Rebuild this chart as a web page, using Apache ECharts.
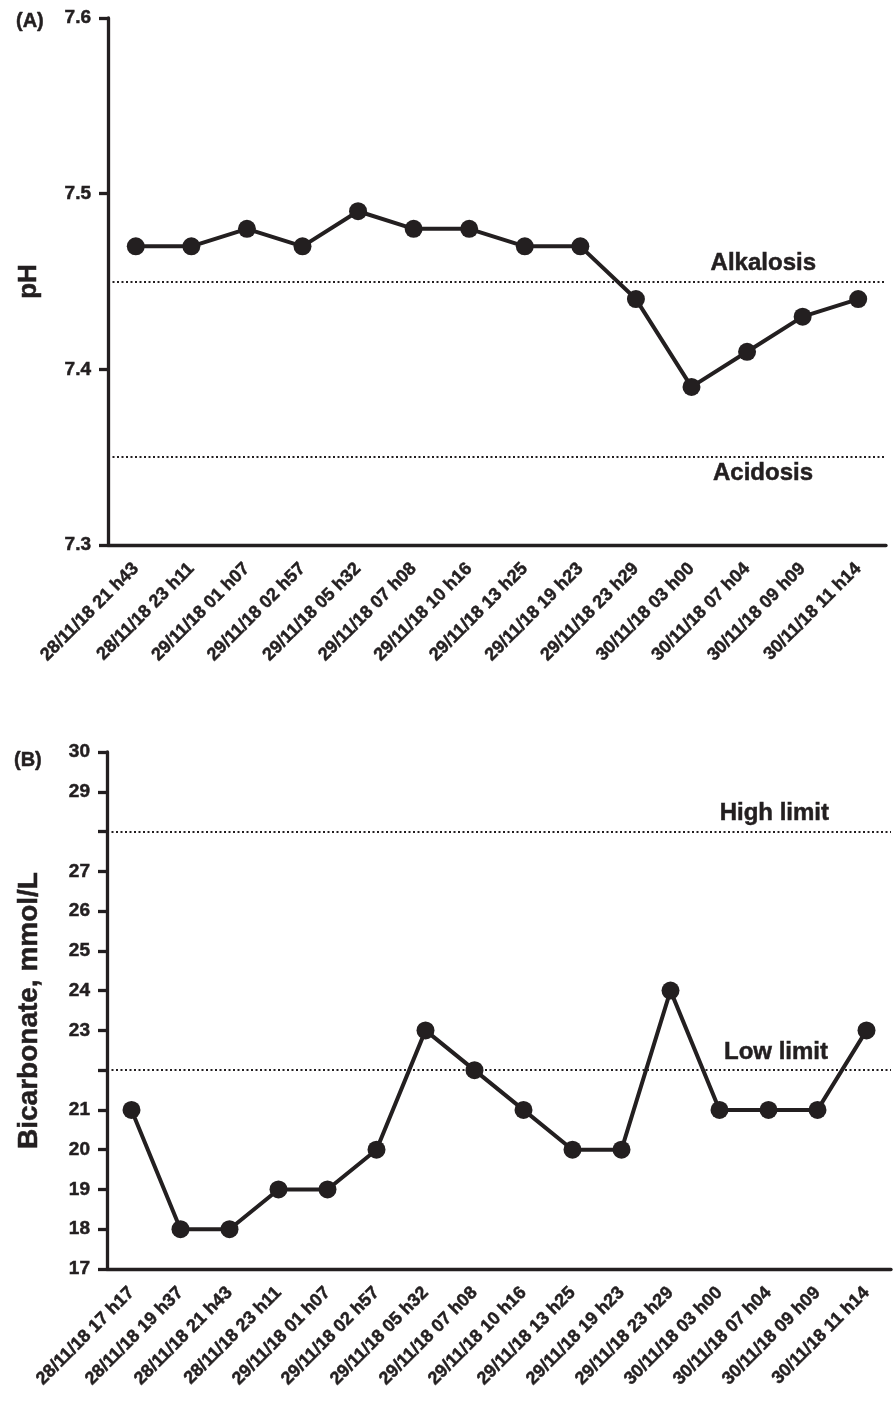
<!DOCTYPE html>
<html>
<head>
<meta charset="utf-8">
<script src="https://cdn.jsdelivr.net/npm/echarts@6/dist/echarts.min.js"></script>
<style>
  html, body { margin: 0; padding: 0; background: #fff; }
  #chart { width: 896px; height: 1402px; }
</style>
</head>
<body>
<div id="chart"></div>
<script>
// panel A: pH
var phTimes = ['28/11/18 21 h43', '28/11/18 23 h11', '29/11/18 01 h07', '29/11/18 02 h57',
  '29/11/18 05 h32', '29/11/18 07 h08', '29/11/18 10 h16', '29/11/18 13 h25',
  '29/11/18 19 h23', '29/11/18 23 h29', '30/11/18 03 h00', '30/11/18 07 h04',
  '30/11/18 09 h09', '30/11/18 11 h14'];
var phValues = [7.47, 7.47, 7.48, 7.47, 7.49, 7.48, 7.48, 7.47, 7.47, 7.44, 7.39, 7.41, 7.43, 7.44];
var phLimits = [{ value: 7.45, text: 'Alkalosis' }, { value: 7.35, text: 'Acidosis' }];

// panel B: bicarbonate
var bicTimes = ['28/11/18 17 h17', '28/11/18 19 h37', '28/11/18 21 h43', '28/11/18 23 h11',
  '29/11/18 01 h07', '29/11/18 02 h57', '29/11/18 05 h32', '29/11/18 07 h08',
  '29/11/18 10 h16', '29/11/18 13 h25', '29/11/18 19 h23', '29/11/18 23 h29',
  '30/11/18 03 h00', '30/11/18 07 h04', '30/11/18 09 h09', '30/11/18 11 h14'];
var bicValues = [21, 18, 18, 19, 19, 20, 23, 22, 21, 20, 20, 24, 21, 21, 21, 23];
var bicLimits = [{ value: 28, text: 'High limit' }, { value: 22, text: 'Low limit' }];
var bicHiddenTicks = [22, 28];

var ink = '#231f20';
var font = "'Liberation Sans', Arial, sans-serif";

// bold text, a touch heavier like the printed figure
function txt(size, extra) {
  var s = { color: ink, fontFamily: font, fontWeight: 'bold', fontSize: size,
            textBorderColor: ink, textBorderWidth: 0.5 };
  for (var k in extra) s[k] = extra[k];
  return s;
}

var myChart = echarts.init(document.getElementById('chart'));

function xAxisFor(idx, cats) {
  return {
    type: 'category',
    gridIndex: idx,
    data: cats,
    axisLine: { lineStyle: { color: ink, width: 3.3 } },
    axisTick: { alignWithLabel: true, length: 9, lineStyle: { color: ink, width: 3.3 } },
    axisLabel: txt(18, { rotate: 45, margin: 21, interval: 0 })
  };
}

function limitLine(lims, offsets) {
  return {
    silent: true,
    symbol: 'none',
    lineStyle: { color: ink, type: [2, 2.5], width: 2.2 },
    data: lims.map(function (l, i) {
      return {
        yAxis: l.value,
        label: txt(24, {
          show: true,
          formatter: l.text,
          position: offsets[i].pos,
          distance: offsets[i].dist
        })
      };
    })
  };
}

option = {
  backgroundColor: '#fff',
  title: [
    { text: '(A)', left: 11, top: 6, textStyle: txt(20) },
    { text: '(B)', left: 9, top: 745, textStyle: txt(20) }
  ],
  grid: [
    { left: 108, top: 18, width: 778, height: 527 },
    { left: 107, top: 752, width: 784, height: 517 }
  ],
  xAxis: [xAxisFor(0, phTimes), xAxisFor(1, bicTimes)],
  yAxis: [
    {
      type: 'value', gridIndex: 0, min: 7.3, max: 7.6, interval: 0.1,
      name: 'pH', nameLocation: 'middle', nameGap: 66,
      nameTextStyle: txt(26),
      splitLine: { show: false },
      axisLine: { show: true, lineStyle: { color: ink, width: 3.3 } },
      axisTick: { show: true, length: 9, lineStyle: { color: ink, width: 3.3 } },
      axisLabel: txt(19, {
        margin: 17,
        formatter: function (v) { return v.toFixed(1); }
      })
    },
    {
      type: 'value', gridIndex: 1, min: 17, max: 30, interval: 1,
      name: 'Bicarbonate, mmol/L', nameLocation: 'middle', nameGap: 64,
      nameTextStyle: txt(28),
      splitLine: { show: false },
      axisLine: { show: true, lineStyle: { color: ink, width: 3.3 } },
      axisTick: { show: true, length: 9, lineStyle: { color: ink, width: 3.3 } },
      axisLabel: txt(19, {
        margin: 17,
        formatter: function (v) { return bicHiddenTicks.indexOf(v) >= 0 ? '' : String(v); }
      })
    }
  ],
  series: [
    {
      type: 'line', xAxisIndex: 0, yAxisIndex: 0,
      data: phValues,
      symbol: 'circle', symbolSize: 18,
      lineStyle: { color: ink, width: 4 },
      itemStyle: { color: ink },
      markLine: limitLine(phLimits, [
        { pos: 'insideEndTop', dist: [70, 6] },
        { pos: 'insideEndBottom', dist: [73, 4] }
      ])
    },
    {
      type: 'line', xAxisIndex: 1, yAxisIndex: 1,
      data: bicValues,
      symbol: 'circle', symbolSize: 18,
      lineStyle: { color: ink, width: 4 },
      itemStyle: { color: ink },
      markLine: limitLine(bicLimits, [
        { pos: 'insideEndTop', dist: [62, 6] },
        { pos: 'insideEndTop', dist: [63, 6] }
      ])
    }
  ]
};

myChart.setOption(option);
</script>
</body>
</html>
